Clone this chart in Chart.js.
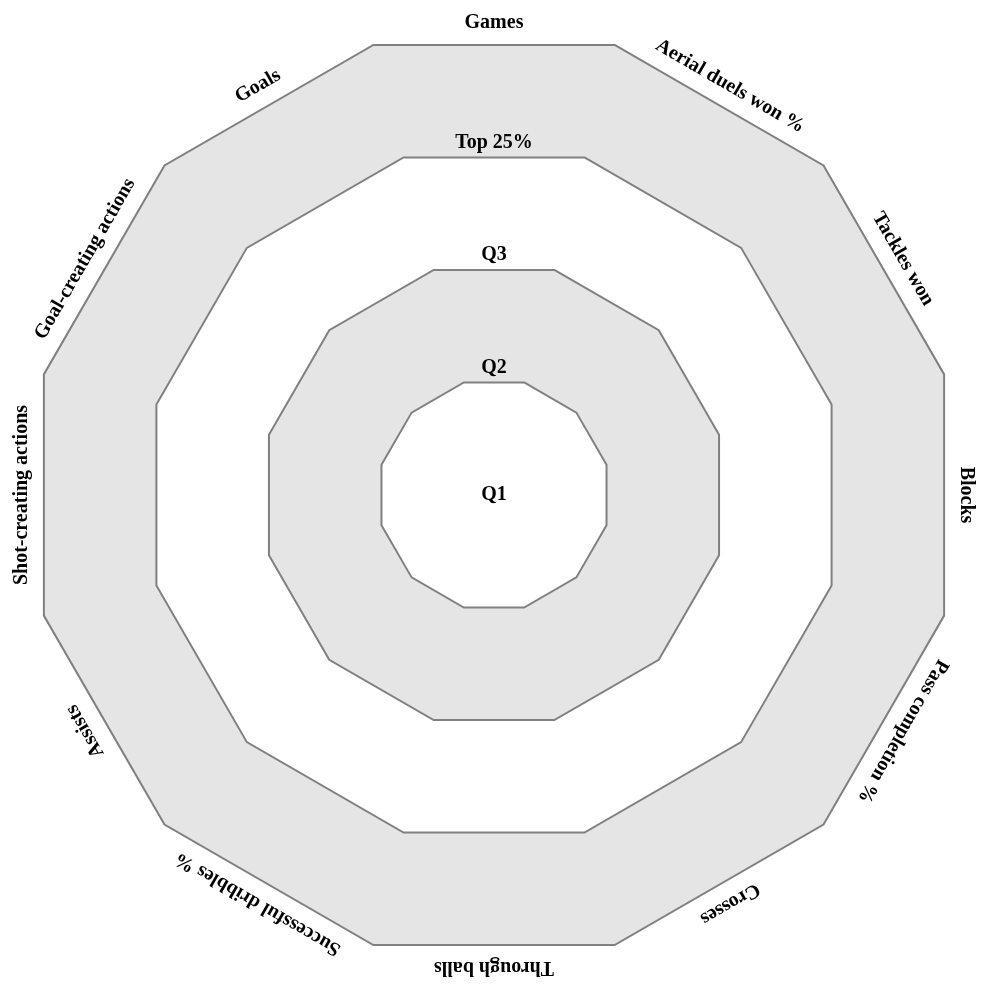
<!DOCTYPE html>
<html>
<head>
<meta charset="utf-8">
<script src="https://cdn.jsdelivr.net/npm/chart.js@4.4.1/dist/chart.umd.min.js"></script>
<style>
  html, body { margin: 0; padding: 0; background: #fff; }
  #wrap { width: 989px; height: 991px; }
</style>
</head>
<body>
<div id="wrap"><canvas id="radarChart"></canvas></div>
<script>
// categories, going clockwise from the top
var categories = ['Games', 'Aerial duels won %', 'Tackles won', 'Blocks', 'Pass completion %',
  'Crosses', 'Through balls', 'Successful dribbles %', 'Assists', 'Shot-creating actions',
  'Goal-creating actions', 'Goals'];
// ring bands (value = ring level on the scale) and their labels
var ringLevels = [1, 2, 3, 4];
var ringLabels = ['Q1', 'Q2', 'Q3', 'Top 25%'];
var ringFills = ['#ffffff', '#e5e5e5', '#ffffff', '#e5e5e5'];

var FONT = 'bold 20px "Liberation Serif", "Times New Roman", serif';
var HALF_STEP = Math.PI / 12; // labels sit midway between polygon corners

var labelPlugin = {
  id: 'ringLabels',
  afterDatasetsDraw: function(chart) {
    var scale = chart.scales.r;
    var ctx = chart.ctx;
    ctx.save();
    ctx.font = FONT;
    ctx.fillStyle = '#000';
    ctx.textAlign = 'center';
    ctx.textBaseline = 'middle';

    // ring names, placed just above the top edge of each ring
    var apothem = Math.cos(HALF_STEP);
    ringLabels.forEach(function(txt, i) {
      if (i === 0) {
        ctx.fillText(txt, scale.xCenter, scale.yCenter);
        return;
      }
      var d = scale.getDistanceFromCenterForValue(ringLevels[i - 1]) * apothem;
      ctx.fillText(txt, scale.xCenter, scale.yCenter - d - 15);
    });

    // category names, rotated along the outer edge
    var outer = scale.getDistanceFromCenterForValue(scale.max) * apothem + 22;
    categories.forEach(function(txt, i) {
      var p = scale.getPointPosition(i, outer, -HALF_STEP);
      var ang = scale.getIndexAngle(i) - HALF_STEP;
      ctx.save();
      ctx.translate(p.x, p.y);
      ctx.rotate(ang);
      ctx.fillText(txt, 0, 0);
      ctx.restore();
    });
    ctx.restore();
  }
};

document.addEventListener("DOMContentLoaded", () => {
  var ctx = document.getElementById("radarChart").getContext("2d");
  var datasets = ringLevels.map(function(level, i) {
    return {
      label: ringLabels[i],
      data: categories.map(function() { return level; }),
      backgroundColor: ringFills[i],
      borderColor: '#808080',
      borderWidth: 2,
      pointRadius: 0,
      fill: true,
      order: i
    };
  });
  new Chart(ctx, {
    type: 'radar',
    data: { labels: categories, datasets: datasets },
    options: {
      responsive: true,
      maintainAspectRatio: false,
      animation: false,
      layout: { padding: { left: 28, right: 29, top: 29, bottom: 30 } },
      plugins: { legend: { display: false }, tooltip: { enabled: false } },
      scales: {
        r: {
          min: 0,
          max: 4,
          startAngle: 15,
          ticks: { display: false, stepSize: 1 },
          grid: { display: false },
          angleLines: { display: false },
          pointLabels: { display: false }
        }
      }
    },
    plugins: [labelPlugin]
  });
});
</script>
</body>
</html>
